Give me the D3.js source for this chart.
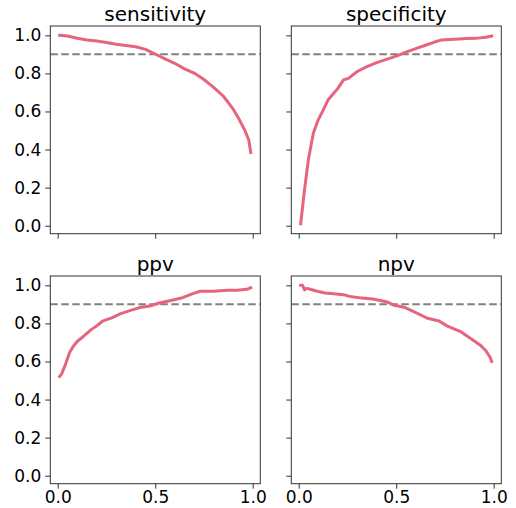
<!DOCTYPE html>
<html>
<head>
<meta charset="utf-8">
<script src="https://cdn.jsdelivr.net/npm/d3@7"></script>
<style>
  body { margin: 0; background: #fff; }
  svg text { font-family: "DejaVu Sans", sans-serif; fill: #000; }
</style>
</head>
<body>
<div id="chart"></div>
<script>
// curves (threshold on x, metric on y)
const sensX = [0.01,0.05,0.1,0.15,0.2,0.25,0.3,0.35,0.4,0.45,0.5,0.55,0.6,0.65,0.7,0.75,0.8,0.85,0.9,0.93,0.96,0.98,0.99];
const sensY = [1.0,0.996,0.985,0.975,0.97,0.962,0.953,0.946,0.94,0.926,0.902,0.876,0.853,0.824,0.802,0.768,0.727,0.68,0.612,0.56,0.5,0.45,0.385];

const specX = [0.01,0.03,0.05,0.075,0.1,0.125,0.15,0.175,0.2,0.23,0.255,0.3,0.35,0.4,0.45,0.5,0.55,0.6,0.65,0.7,0.73,0.8,0.86,0.91,0.96,0.99];
const specY = [0.01,0.19,0.35,0.486,0.556,0.606,0.66,0.69,0.72,0.766,0.774,0.81,0.836,0.857,0.874,0.891,0.912,0.93,0.948,0.966,0.975,0.979,0.983,0.984,0.99,0.996];

const ppvX = [0.01,0.02,0.04,0.06,0.08,0.1,0.13,0.17,0.2,0.23,0.28,0.32,0.37,0.42,0.48,0.52,0.58,0.64,0.69,0.73,0.8,0.87,0.92,0.97,0.99];
const ppvY = [0.521,0.535,0.585,0.645,0.68,0.705,0.73,0.766,0.787,0.812,0.83,0.85,0.867,0.883,0.893,0.907,0.92,0.935,0.955,0.969,0.969,0.974,0.974,0.979,0.988];

const npvX = [0.01,0.02,0.03,0.04,0.055,0.09,0.135,0.18,0.23,0.26,0.31,0.38,0.45,0.49,0.54,0.59,0.66,0.72,0.76,0.83,0.88,0.93,0.96,0.98,0.99];
const npvY = [1.0,1.0,0.976,0.984,0.981,0.97,0.96,0.956,0.951,0.942,0.935,0.928,0.914,0.895,0.885,0.862,0.827,0.813,0.787,0.757,0.722,0.687,0.656,0.625,0.6];

const titles = ["sensitivity", "specificity", "ppv", "npv"];
const xTicks = [0.0, 0.5, 1.0];
const yTicks = [0.0, 0.2, 0.4, 0.6, 0.8, 1.0];
const refLine = 0.9;

const panels = [
  {title: titles[0], xs: sensX, ys: sensY, col: 0, row: 0},
  {title: titles[1], xs: specX, ys: specY, col: 1, row: 0},
  {title: titles[2], xs: ppvX,  ys: ppvY,  col: 0, row: 1},
  {title: titles[3], xs: npvX,  ys: npvY,  col: 1, row: 1}
];

const W = 516, H = 508;
const colLeft = [50.3, 291.3], rowTop = [26, 276];
const pw = 210, ph = 207.7;
const lineColor = "#e6647d";
const tickFont = "17px";

const svg = d3.select("#chart").append("svg")
  .attr("width", W).attr("height", H);

panels.forEach(p => {
  const left = colLeft[p.col], top = rowTop[p.row];
  const x = d3.scaleLinear().domain([-0.038, 1.039]).range([left, left + pw]);
  const y = d3.scaleLinear().domain([-0.042, 1.049]).range([top + ph, top]);

  const g = svg.append("g");

  // y axis (labels only on left column)
  const ya = g.append("g")
    .attr("transform", `translate(${left},0)`)
    .call(d3.axisLeft(y).tickValues(yTicks).tickSize(5).tickPadding(4)
      .tickFormat(p.col === 0 ? d3.format(".1f") : () => ""));
  ya.select(".domain").remove();
  ya.selectAll("line").attr("stroke", "#333").attr("stroke-width", 1);
  ya.selectAll("text").style("font-size", tickFont).attr("font-family", "DejaVu Sans");

  // x axis (labels only on bottom row)
  const xa = g.append("g")
    .attr("transform", `translate(0,${top + ph})`)
    .call(d3.axisBottom(x).tickValues(xTicks).tickSize(5).tickPadding(2)
      .tickFormat(p.row === 1 ? d3.format(".1f") : () => ""));
  xa.select(".domain").remove();
  xa.selectAll("line").attr("stroke", "#333").attr("stroke-width", 1);
  xa.selectAll("text").style("font-size", tickFont).attr("font-family", "DejaVu Sans");

  // dashed reference line
  g.append("line")
    .attr("x1", left).attr("x2", left + pw)
    .attr("y1", y(refLine)).attr("y2", y(refLine))
    .attr("stroke", "#808080").attr("stroke-width", 2)
    .attr("stroke-dasharray", "7.5,3.5");

  const pts = p.xs.map((v, i) => [v, p.ys[i]]);
  g.append("path")
    .datum(pts)
    .attr("fill", "none")
    .attr("stroke", lineColor)
    .attr("stroke-width", 3)
    .attr("stroke-linejoin", "round")
    .attr("stroke-linecap", "square")
    .attr("d", d3.line().x(d => x(d[0])).y(d => y(d[1])));

  // frame
  g.append("rect")
    .attr("x", left).attr("y", top)
    .attr("width", pw).attr("height", ph)
    .attr("fill", "none").attr("stroke", "#333").attr("stroke-width", 1);

  g.append("text")
    .attr("x", left + pw / 2).attr("y", top - 5.5)
    .attr("text-anchor", "middle")
    .style("font-size", "20px")
    .text(p.title);
});
</script>
</body>
</html>
